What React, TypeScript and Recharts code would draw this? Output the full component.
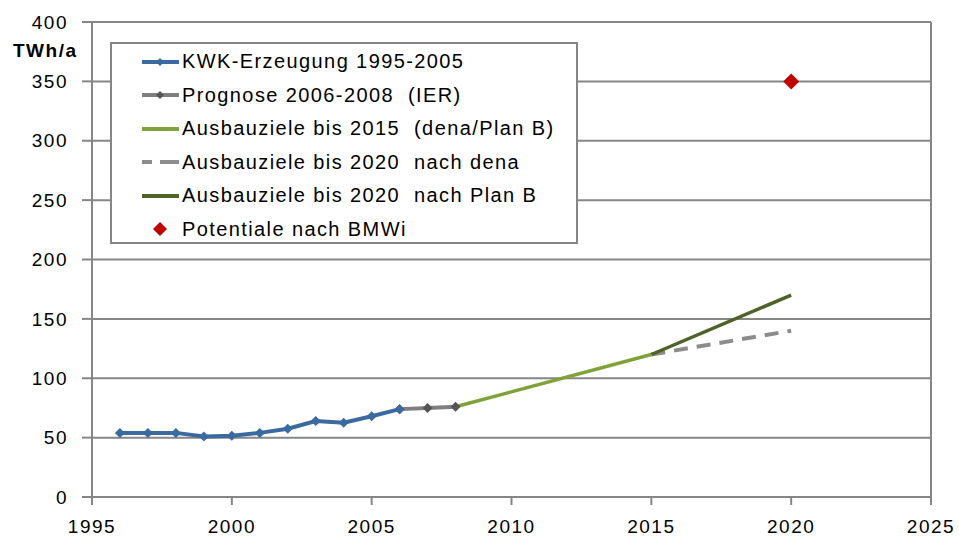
import { LineChart, Line, XAxis, YAxis, CartesianGrid, ReferenceLine } from 'recharts'

const kwkYears = [1996, 1997, 1998, 1999, 2000, 2001, 2002, 2003, 2004, 2005, 2006]
const kwkValues = [54, 54, 54, 51, 51.5, 54, 57.5, 64, 62.5, 68, 74]

const prognoseYears = [2006, 2007, 2008]
const prognoseValues = [74, 75, 76]

const ausbau2015Years = [2008, 2015]
const ausbau2015Values = [76, 120]

const denaYears = [2015, 2020]
const denaValues = [120, 140]

const planBYears = [2015, 2020]
const planBValues = [120, 170]

const bmwiYears = [2020]
const bmwiValues = [350]

const xTicks = [1995, 2000, 2005, 2010, 2015, 2020, 2025]
const yTicks = [0, 50, 100, 150, 200, 250, 300, 350, 400]

const toRows = (xs: number[], ys: number[]) => xs.map((x, i) => ({ year: x, value: ys[i] }))

const C = {
  blue: '#3a6aa0',
  gray: '#7f7f7f',
  grayDot: '#555555',
  green: '#7fa33a',
  darkGreen: '#4f6228',
  dash: '#8c8c8c',
  red: '#c00000',
  axis: '#868686',
}

const FONT = '"Liberation Sans", Arial, sans-serif'

// small diamond marker
function diamond(size: number, fill: string) {
  // eslint-disable-next-line @typescript-eslint/no-explicit-any
  return (props: any) => {
    const { cx, cy, index } = props
    if (cx == null || cy == null) return <g key={index} />
    return (
      <path
        key={index}
        d={`M${cx},${cy - size} L${cx + size},${cy} L${cx},${cy + size} L${cx - size},${cy} Z`}
        fill={fill}
      />
    )
  }
}

const legendItems = [
  { label: 'KWK-Erzeugung 1995-2005', color: C.blue, kind: 'lineDot', dot: C.blue },
  { label: 'Prognose 2006-2008  (IER)', color: C.gray, kind: 'lineDot', dot: C.grayDot },
  { label: 'Ausbauziele bis 2015  (dena/Plan B)', color: C.green, kind: 'line' },
  { label: 'Ausbauziele bis 2020  nach dena', color: C.dash, kind: 'dash' },
  { label: 'Ausbauziele bis 2020  nach Plan B', color: C.darkGreen, kind: 'line' },
  { label: 'Potentiale nach BMWi', color: C.red, kind: 'marker' },
]

function LegendBox() {
  return (
    <div
      style={{
        position: 'absolute',
        left: 110,
        top: 42,
        width: 468,
        height: 202,
        border: `2px solid ${C.axis}`,
        background: '#fff',
        boxSizing: 'border-box',
        paddingTop: 1,
        fontFamily: FONT,
      }}
    >
      {legendItems.map((it) => (
        <div key={it.label} style={{ display: 'flex', alignItems: 'center', height: 33.5 }}>
          <svg width={70} height={20} style={{ flexShrink: 0 }}>
            {it.kind === 'dash' ? (
              <>
                <line x1={30} y1={10} x2={40} y2={10} stroke={it.color} strokeWidth={4} />
                <line x1={48} y1={10} x2={67} y2={10} stroke={it.color} strokeWidth={4} />
              </>
            ) : it.kind === 'marker' ? (
              <path d="M48,3 L55,10 L48,17 L41,10 Z" fill={it.color} />
            ) : (
              <line x1={30} y1={10} x2={67} y2={10} stroke={it.color} strokeWidth={4} />
            )}
            {it.kind === 'lineDot' && <path d="M48,6 L52,10 L48,14 L44,10 Z" fill={it.dot} />}
          </svg>
          <span style={{ fontSize: 20, letterSpacing: 1.4, color: '#000', whiteSpace: 'pre' }}>{it.label}</span>
        </div>
      ))}
    </div>
  )
}

const tickStyle = { fontFamily: FONT, fontSize: 19, fill: '#000', letterSpacing: 1.5 }

export default function App() {
  return (
    <div style={{ position: 'absolute', left: 0, top: 0, width: 959, height: 542, background: '#fff' }}>
      <LineChart width={959} height={542} margin={{ top: 22, right: 28, left: 0, bottom: 0 }}>
        <CartesianGrid horizontal vertical={false} stroke={C.axis} strokeWidth={2} />
        <XAxis
          type="number"
          dataKey="year"
          domain={[1995, 2025]}
          ticks={xTicks}
          allowDuplicatedCategory={false}
          height={45}
          tick={tickStyle}
          tickSize={8}
          tickMargin={15}
          stroke={C.axis}
          strokeWidth={2}
        />
        <YAxis
          type="number"
          domain={[0, 400]}
          ticks={yTicks}
          width={92}
          tick={tickStyle}
          tickSize={10}
          tickMargin={14}
          stroke={C.axis}
          strokeWidth={2}
        />
        <ReferenceLine x={2025} stroke={C.axis} strokeWidth={2} />
        <Line
          data={toRows(ausbau2015Years, ausbau2015Values)}
          dataKey="value"
          stroke={C.green}
          strokeWidth={3.5}
          dot={false}
          isAnimationActive={false}
        />
        <Line
          data={toRows(denaYears, denaValues)}
          dataKey="value"
          stroke={C.dash}
          strokeWidth={4}
          strokeDasharray="14 9"
          dot={false}
          isAnimationActive={false}
        />
        <Line
          data={toRows(planBYears, planBValues)}
          dataKey="value"
          stroke={C.darkGreen}
          strokeWidth={3.5}
          dot={false}
          isAnimationActive={false}
        />
        <Line
          data={toRows(prognoseYears, prognoseValues)}
          dataKey="value"
          stroke={C.gray}
          strokeWidth={4}
          dot={diamond(5, C.grayDot)}
          isAnimationActive={false}
        />
        <Line
          data={toRows(kwkYears, kwkValues)}
          dataKey="value"
          stroke={C.blue}
          strokeWidth={4}
          dot={diamond(5, C.blue)}
          isAnimationActive={false}
        />
        <Line
          data={toRows(bmwiYears, bmwiValues)}
          dataKey="value"
          stroke="none"
          dot={diamond(8, C.red)}
          isAnimationActive={false}
        />
      </LineChart>
      <LegendBox />
      <div
        style={{
          position: 'absolute',
          left: 13,
          top: 40,
          fontFamily: FONT,
          fontWeight: 'bold',
          fontSize: 19,
          letterSpacing: 1.5,
          color: '#000',
        }}
      >
        TWh/a
      </div>
    </div>
  )
}
